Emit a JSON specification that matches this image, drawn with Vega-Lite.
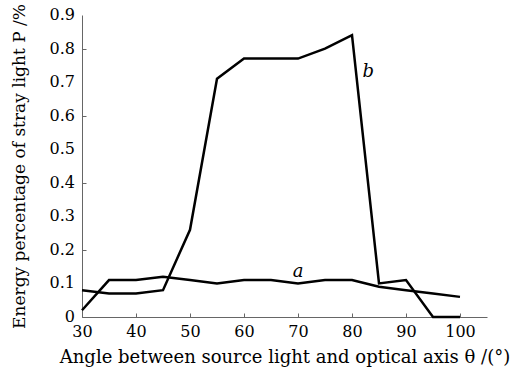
{
  "$schema": "https://vega.github.io/schema/vega-lite/v6.json",
  "autosize": "none",
  "width": 405,
  "height": 302,
  "padding": {"left": 82, "top": 15, "right": 28, "bottom": 58},
  "background": "white",
  "config": {
    "view": {"stroke": null},
    "font": "DejaVu Serif",
    "axis": {"labelOverlap": false}
  },
  "datasets": {
    "curves": [
      {"series": "a", "angle": 30, "p": 0.02},
      {"series": "a", "angle": 35, "p": 0.11},
      {"series": "a", "angle": 40, "p": 0.11},
      {"series": "a", "angle": 45, "p": 0.12},
      {"series": "a", "angle": 50, "p": 0.11},
      {"series": "a", "angle": 55, "p": 0.10},
      {"series": "a", "angle": 60, "p": 0.11},
      {"series": "a", "angle": 65, "p": 0.11},
      {"series": "a", "angle": 70, "p": 0.10},
      {"series": "a", "angle": 75, "p": 0.11},
      {"series": "a", "angle": 80, "p": 0.11},
      {"series": "a", "angle": 85, "p": 0.09},
      {"series": "a", "angle": 90, "p": 0.08},
      {"series": "a", "angle": 95, "p": 0.07},
      {"series": "a", "angle": 100, "p": 0.06},
      {"series": "b", "angle": 30, "p": 0.08},
      {"series": "b", "angle": 35, "p": 0.07},
      {"series": "b", "angle": 40, "p": 0.07},
      {"series": "b", "angle": 45, "p": 0.08},
      {"series": "b", "angle": 50, "p": 0.26},
      {"series": "b", "angle": 55, "p": 0.71},
      {"series": "b", "angle": 60, "p": 0.77},
      {"series": "b", "angle": 65, "p": 0.77},
      {"series": "b", "angle": 70, "p": 0.77},
      {"series": "b", "angle": 75, "p": 0.80},
      {"series": "b", "angle": 80, "p": 0.84},
      {"series": "b", "angle": 85, "p": 0.10},
      {"series": "b", "angle": 90, "p": 0.11},
      {"series": "b", "angle": 95, "p": 0.0},
      {"series": "b", "angle": 100, "p": 0.0}
    ],
    "labels": [
      {"label": "a", "angle": 70, "p": 0.135},
      {"label": "b", "angle": 83, "p": 0.73}
    ],
    "yticklabels": [
      {"p": 0, "text": "0"},
      {"p": 0.1, "text": "0.1"},
      {"p": 0.2, "text": "0.2"},
      {"p": 0.3, "text": "0.3"},
      {"p": 0.4, "text": "0.4"},
      {"p": 0.5, "text": "0.5"},
      {"p": 0.6, "text": "0.6"},
      {"p": 0.7, "text": "0.7"},
      {"p": 0.8, "text": "0.8"},
      {"p": 0.9, "text": "0.9"}
    ]
  },
  "layer": [
    {
      "data": {"name": "curves"},
      "mark": {"type": "line", "color": "black", "strokeWidth": 2.5, "strokeJoin": "miter", "clip": false},
      "encoding": {
        "x": {
          "field": "angle", "type": "quantitative",
          "scale": {"domain": [30, 105], "nice": false, "zero": false},
          "axis": {
            "title": "Angle between source light and optical axis θ /(°)",
            "values": [30, 32.5, 35, 37.5, 40, 42.5, 45, 47.5, 50, 52.5, 55, 57.5, 60, 62.5, 65, 67.5, 70, 72.5, 75, 77.5, 80, 82.5, 85, 87.5, 90, 92.5, 95, 97.5, 100, 102.5, 105],
            "labelExpr": "datum.value % 10 === 0 ? datum.label : ''",
            "labelFontSize": 16,
            "labelPadding": 10,
            "grid": false,
            "domainColor": "#666",
            "tickColor": "#666",
            "tickSize": -4,
            "labelColor": "black",
            "labelFlush": false,
            "labelOverlap": false,
            "titleFontSize": 18,
            "titleFontWeight": "normal",
            "titleColor": "black",
            "titlePadding": 9
          }
        },
        "y": {
          "field": "p", "type": "quantitative",
          "scale": {"domain": [0, 0.9], "nice": false},
          "axis": {
            "title": "Energy percentage of stray light P /%",
            "values": [0, 0.05, 0.1, 0.15, 0.2, 0.25, 0.3, 0.35, 0.4, 0.45, 0.5, 0.55, 0.6, 0.65, 0.7, 0.75, 0.8, 0.85, 0.9],
            "labels": false,
            "grid": false,
            "domainColor": "#666",
            "tickColor": "#666",
            "tickSize": -4,
            "titleFontSize": 17,
            "titleFontWeight": "normal",
            "titleColor": "black",
            "titlePadding": 53
          }
        },
        "detail": {"field": "series"}
      }
    },
    {
      "data": {"name": "yticklabels"},
      "mark": {"type": "text", "align": "right", "baseline": "middle", "dx": -7, "fontSize": 16, "color": "black", "font": "DejaVu Serif", "clip": false},
      "encoding": {
        "x": {"datum": 30, "type": "quantitative"},
        "y": {"field": "p", "type": "quantitative"},
        "text": {"field": "text"}
      }
    },
    {
      "data": {"name": "labels"},
      "mark": {"type": "text", "fontStyle": "italic", "fontSize": 18, "color": "black", "font": "DejaVu Serif"},
      "encoding": {
        "x": {"field": "angle", "type": "quantitative"},
        "y": {"field": "p", "type": "quantitative"},
        "text": {"field": "label"}
      }
    }
  ]
}
